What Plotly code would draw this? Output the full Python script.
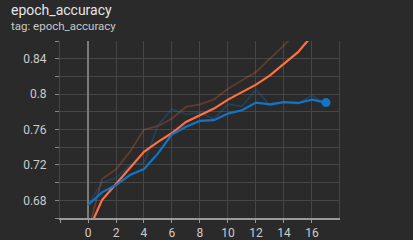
import plotly.graph_objects as go

steps = list(range(18))

blue_smoothed = [0.6747, 0.689, 0.6972, 0.7085, 0.7153, 0.733, 0.7544, 0.763, 0.7697, 0.7705,
                 0.778, 0.7817, 0.7904, 0.7885, 0.791, 0.790, 0.7938, 0.7904]
blue_raw = [0.6747, 0.700, 0.705, 0.720, 0.722, 0.765, 0.783, 0.777, 0.779, 0.772,
            0.7885, 0.7862, 0.805, 0.787, 0.791, 0.789, 0.7986, 0.788]

orange_smoothed = [0.6446, 0.6803, 0.6984, 0.716, 0.7348, 0.746, 0.756, 0.7686, 0.776, 0.7836,
                   0.7938, 0.8024, 0.8107, 0.8212, 0.8344, 0.8474, 0.866, 0.882]
orange_raw = [0.6446, 0.704, 0.715, 0.735, 0.760, 0.7637, 0.7724, 0.7855, 0.7885, 0.794,
              0.806, 0.8155, 0.825, 0.840, 0.855, 0.872, 0.886, 0.895]

x_ticks = list(range(-2, 17, 2))
x_labels = ["" if v < 0 else str(v) for v in x_ticks]
y_ticks = [round(0.66 + 0.02 * i, 2) for i in range(11)]
y_labels = [("%g" % v) if i % 2 == 1 else "" for i, v in enumerate(y_ticks)]

BG = "#2a2a2a"
GRID = "#464646"

fig = go.Figure()
fig.add_trace(go.Scatter(x=steps, y=orange_raw, mode="lines",
                         line=dict(color="rgba(255,112,67,0.25)", width=1.8), hoverinfo="skip"))
fig.add_trace(go.Scatter(x=steps, y=blue_raw, mode="lines",
                         line=dict(color="rgba(18,115,196,0.28)", width=1.8), hoverinfo="skip"))
fig.add_trace(go.Scatter(x=steps, y=orange_smoothed, mode="lines",
                         line=dict(color="#ff7043", width=2.2)))
fig.add_trace(go.Scatter(x=steps, y=blue_smoothed, mode="lines",
                         line=dict(color="#1373c4", width=2.2)))
fig.add_trace(go.Scatter(x=steps[-1:], y=blue_smoothed[-1:], mode="markers",
                         marker=dict(color="#1373c4", size=9)))

fig.update_layout(
    width=413, height=240,
    margin=dict(l=60, r=74, t=41, b=22, autoexpand=False),
    paper_bgcolor=BG, plot_bgcolor=BG,
    showlegend=False,
    font=dict(family="Roboto", color="#cccccc", size=12),
)
fig.add_annotation(text="epoch_accuracy", x=0, y=1, xref="paper", yref="paper",
                   xanchor="left", yanchor="middle", xshift=-51, yshift=41 - 9.5,
                   showarrow=False, font=dict(size=14, color="#e6e6e6"))
fig.add_annotation(text="tag: epoch_accuracy", x=0, y=1, xref="paper", yref="paper",
                   xanchor="left", yanchor="middle", xshift=-51, yshift=41 - 25.5,
                   showarrow=False, font=dict(size=11.5, color="#c8c8c8"))

fig.update_xaxes(range=[-2, 17.93], tickvals=x_ticks, ticktext=x_labels,
                 automargin=False,
                 showgrid=True, gridcolor=GRID, gridwidth=1,
                 zeroline=True, zerolinecolor="#7a7a7a", zerolinewidth=1.5,
                 showline=True, linecolor="#9a9a9a", linewidth=2,
                 ticks="outside", ticklen=3, tickcolor="#9a9a9a",
                 ticklabelstandoff=0,
                 tickfont=dict(size=12, color="#cccccc"))
fig.update_yaxes(range=[0.66, 0.86], tickvals=y_ticks, ticktext=y_labels,
                 automargin=False,
                 showgrid=True, gridcolor=GRID, gridwidth=1,
                 zeroline=False,
                 showline=True, mirror=True, linecolor=GRID, linewidth=1,
                 ticks="outside", ticklen=4, tickcolor="#888888",
                 ticklabelstandoff=6,
                 tickfont=dict(size=12, color="#cccccc"))

fig.write_html("out.html")
